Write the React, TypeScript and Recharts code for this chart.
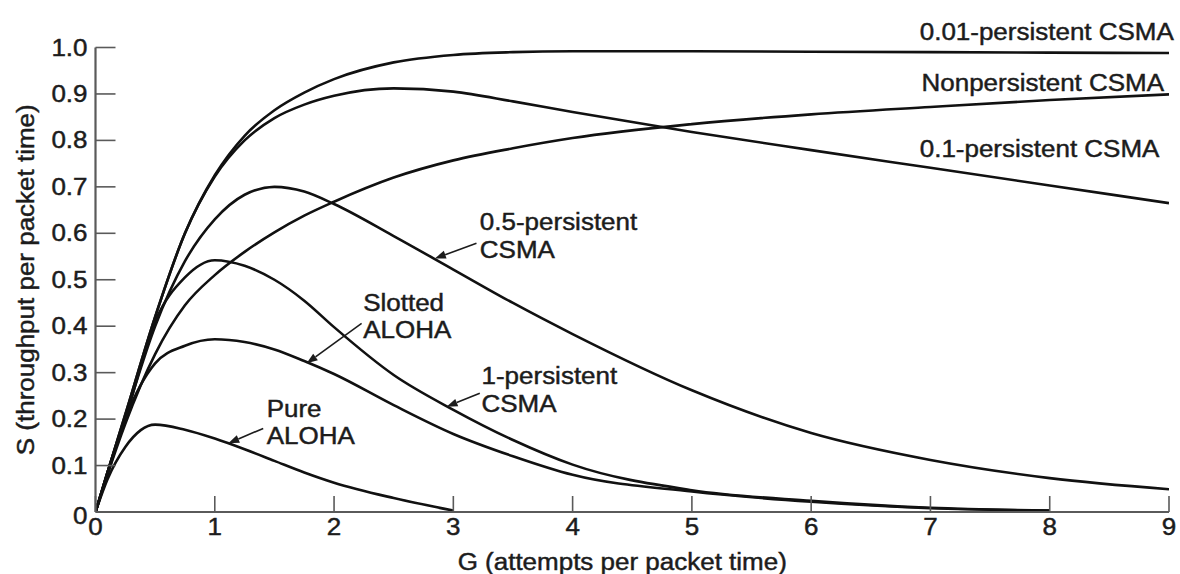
import React from 'react';
import { LineChart, Line, XAxis, YAxis, ReferenceDot, ReferenceLine } from 'recharts';

// G (attempts per packet time)
const G = [0, 0.1, 0.25, 0.5, 0.75, 1, 1.25, 1.5, 1.75, 2, 2.5, 3, 3.5, 4, 5, 6, 7, 8, 9];

// S (throughput per packet time) for each protocol
const p001 = [0, 0.085, 0.21, 0.42, 0.6, 0.725, 0.81, 0.865, 0.903, 0.932, 0.968, 0.984, 0.99, 0.992, 0.992, 0.991, 0.99, 0.989, 0.988];
const p01 = [0, 0.085, 0.21, 0.42, 0.6, 0.722, 0.8, 0.848, 0.877, 0.896, 0.912, 0.905, 0.884, 0.861, 0.818, 0.779, 0.741, 0.703, 0.665];
const nonp = [0, 0.08, 0.19, 0.34, 0.445, 0.51, 0.56, 0.602, 0.638, 0.668, 0.72, 0.757, 0.783, 0.805, 0.835, 0.856, 0.872, 0.887, 0.899];
const p05 = [0, 0.085, 0.205, 0.4, 0.54, 0.63, 0.683, 0.7, 0.69, 0.663, 0.594, 0.522, 0.45, 0.383, 0.262, 0.17, 0.112, 0.073, 0.049];
const p1 = [0, 0.085, 0.2, 0.41, 0.505, 0.542, 0.53, 0.5, 0.455, 0.398, 0.295, 0.22, 0.155, 0.102, 0.047, 0.024, 0.009, 0.003, null];
const slotted = [0, 0.08, 0.2, 0.32, 0.358, 0.372, 0.366, 0.35, 0.325, 0.297, 0.23, 0.168, 0.12, 0.08, 0.044, 0.022, 0.008, 0.003, null];
const pure = [0, 0.07, 0.14, 0.188, 0.177, 0.158, 0.135, 0.11, 0.085, 0.063, 0.03, 0.003, null, null, null, null, null, null, null];

const seriesKeys = ['p001', 'p01', 'nonp', 'p05', 'p1', 'slotted', 'pure'];
const seriesValues = [p001, p01, nonp, p05, p1, slotted, pure];

const xTicks = [0, 1, 2, 3, 4, 5, 6, 7, 8, 9];
const yTicks = [0, 0.1, 0.2, 0.3, 0.4, 0.5, 0.6, 0.7, 0.8, 0.9, 1.0];

const xTitle = 'G (attempts per packet time)';
const yTitle = 'S (throughput per packet time)';

// curve labels (anchored in data coordinates)
const labelTexts = [
  '0.01-persistent CSMA',
  'Nonpersistent CSMA',
  '0.1-persistent CSMA',
  '0.5-persistent',
  'CSMA',
  'Slotted',
  'ALOHA',
  '1-persistent',
  'CSMA',
  'Pure',
  'ALOHA',
];
const labelG = [6.91, 6.925, 6.91, 3.222, 3.222, 2.244, 2.244, 3.236, 3.236, 1.435, 1.435];
const labelS = [1.016, 0.906, 0.765, 0.607, 0.546, 0.433, 0.374, 0.2756, 0.216, 0.205, 0.146];

// arrows: from label to curve
const arrowFromG = [3.194, 2.231, 3.222, 1.406];
const arrowFromS = [0.5785, 0.406, 0.2555, 0.18];
const arrowToG = [2.845, 1.77, 2.943, 1.113];
const arrowToS = [0.546, 0.32, 0.2267, 0.148];

const data = G.map((g, i) => {
  const row: Record<string, number | null> = { g };
  seriesKeys.forEach((k, j) => {
    row[k] = seriesValues[j][i];
  });
  return row;
});

const FONT = '"Liberation Sans", Arial, Helvetica, sans-serif';
const SX = 1.13;
const FS = 23;
const INK = '#1c1c1c';
const AXIS = '#5a5a5a';

function SText(props: { x: number; y: number; anchor?: string; rotate?: number; children: React.ReactNode }) {
  const { x, y, anchor = 'start', rotate = 0, children } = props;
  return (
    <g transform={`translate(${x},${y}) rotate(${rotate}) scale(${SX},1)`}>
      <text
        x={0}
        y={0}
        textAnchor={anchor as any}
        fontFamily={FONT}
        fontSize={FS}
        fill={INK}
        stroke={INK}
        strokeWidth={0.45}
      >
        {children}
      </text>
    </g>
  );
}

const XTick = (props: any) => {
  const { x, y, payload } = props;
  return (
    <g>
      <line x1={x} y1={y} x2={x} y2={y - 16} stroke={AXIS} strokeWidth={1.6} />
      <SText x={x} y={y + 23} anchor="middle">
        {String(payload.value)}
      </SText>
    </g>
  );
};

const YTick = (props: any) => {
  const { x, y, payload } = props;
  const v = payload.value as number;
  const label = v === 0 ? '0' : v.toFixed(1);
  return (
    <g>
      <line x1={x} y1={y} x2={x + 20} y2={y} stroke={AXIS} strokeWidth={1.6} />
      <SText x={x - 8} y={y + (v === 0 ? 12 : 8)} anchor="end">
        {label}
      </SText>
    </g>
  );
};

const ArrowShape = (props: any) => {
  const { x1, y1, x2, y2 } = props;
  if ([x1, y1, x2, y2].some((v) => typeof v !== 'number' || isNaN(v))) return null;
  const dx = x2 - x1;
  const dy = y2 - y1;
  const len = Math.sqrt(dx * dx + dy * dy) || 1;
  const ux = dx / len;
  const uy = dy / len;
  const hl = 11;
  const hw = 4;
  const bx = x2 - ux * hl;
  const by = y2 - uy * hl;
  const nx = -uy;
  const ny = ux;
  return (
    <g>
      <line x1={x1} y1={y1} x2={bx} y2={by} stroke={INK} strokeWidth={1.6} />
      <polygon
        points={`${x2},${y2} ${bx + nx * hw},${by + ny * hw} ${bx - nx * hw},${by - ny * hw}`}
        fill={INK}
      />
    </g>
  );
};

const XTitle = (props: any) => {
  const vb = props.viewBox || {};
  const cx = vb.x + vb.width / 2 - 10;
  const y = vb.y + 58;
  return (
    <SText x={cx} y={y} anchor="middle">
      {xTitle}
    </SText>
  );
};

const YTitle = (props: any) => {
  const vb = props.viewBox || {};
  const x = vb.x + vb.width - 61.5;
  const cy = vb.y + vb.height / 2;
  return (
    <SText x={x} y={cy} anchor="middle" rotate={-90}>
      {yTitle}
    </SText>
  );
};

export default function App() {
  return (
    <div style={{ position: 'absolute', left: 0, top: 0, width: 1180, height: 574, background: '#fff' }}>
      <LineChart
        width={1180}
        height={574}
        data={data}
        margin={{ top: 47.5, right: 11, left: 94.5, bottom: 61 }}
      >
        <XAxis
          dataKey="g"
          type="number"
          domain={[0, 9]}
          ticks={xTicks}
          interval={0}
          height={1}
          tickSize={0}
          tickMargin={0}
          tickLine={false}
          axisLine={{ stroke: AXIS, strokeWidth: 2.2 }}
          tick={<XTick />}
          label={<XTitle />}
          allowDataOverflow
        />
        <YAxis
          type="number"
          domain={[0, 1]}
          ticks={yTicks}
          interval={0}
          width={1}
          tickSize={0}
          tickMargin={0}
          tickLine={false}
          axisLine={{ stroke: AXIS, strokeWidth: 2.2 }}
          tick={<YTick />}
          label={<YTitle />}
          allowDataOverflow
        />
        {seriesKeys.map((k) => (
          <Line
            key={k}
            dataKey={k}
            type="monotone"
            stroke="#111"
            strokeWidth={2.6}
            dot={false}
            activeDot={false}
            isAnimationActive={false}
            connectNulls={false}
          />
        ))}
        {arrowFromG.map((g, i) => (
          <ReferenceLine
            key={`a${i}`}
            segment={[
              { x: g, y: arrowFromS[i] },
              { x: arrowToG[i], y: arrowToS[i] },
            ]}
            ifOverflow="visible"
            stroke={INK}
            shape={ArrowShape}
          />
        ))}
        {labelTexts.map((t, i) => (
          <ReferenceDot
            key={`l${i}`}
            x={labelG[i]}
            y={labelS[i]}
            r={0}
            ifOverflow="visible"
            shape={(p: any) => (
              <SText x={p.cx} y={p.cy}>
                {t}
              </SText>
            )}
          />
        ))}
      </LineChart>
    </div>
  );
}
